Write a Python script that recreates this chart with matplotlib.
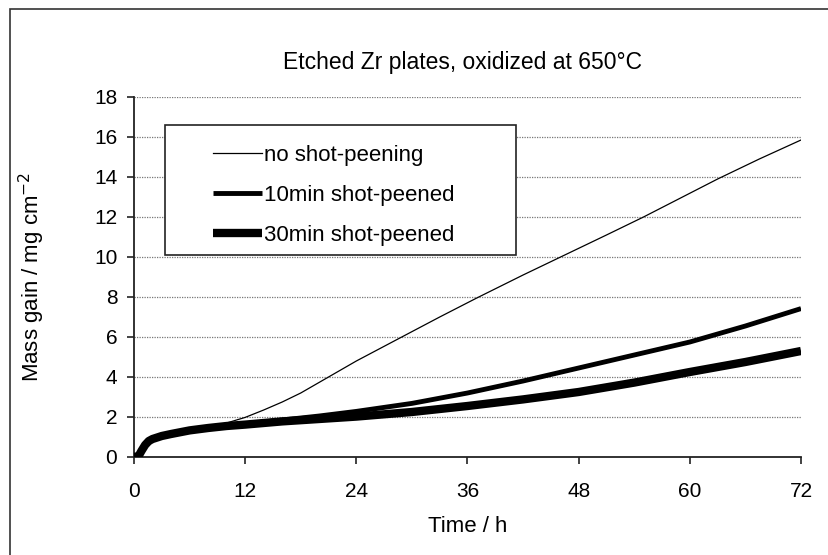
import matplotlib
matplotlib.use("Agg")
import matplotlib.pyplot as plt
from matplotlib.patches import Rectangle
import numpy as np

plt.rcParams["font.family"] = ["Liberation Sans", "DejaVu Sans"]

# ── Data ─────────────────────────────────────────────────────────────────────
t_none = [0, 0.5, 0.8, 1.2, 1.6, 2, 3, 4, 6, 8, 10, 12, 14, 16, 18, 21, 24,
          28.7, 33, 37, 42, 46.5, 51, 55, 59, 63, 67.5, 72]
m_none = [0, 0.05, 0.3, 0.6, 0.8, 0.9, 1.05, 1.15, 1.33, 1.5, 1.7, 1.98, 2.35,
          2.75, 3.2, 4.0, 4.8, 5.95, 7.0, 7.95, 9.1, 10.1, 11.1, 12.0, 12.95,
          13.9, 14.9, 15.85]

t_10 = [0, 0.5, 0.8, 1.2, 1.6, 2, 3, 4, 6, 8, 10, 12, 16, 20, 24, 30, 36,
        42, 48, 54, 60, 66, 72]
m_10 = [0, 0.05, 0.3, 0.6, 0.8, 0.9, 1.05, 1.15, 1.33, 1.45, 1.55, 1.65,
        1.85, 2.05, 2.28, 2.68, 3.2, 3.8, 4.45, 5.1, 5.75, 6.55, 7.42]

t_30 = [0, 0.5, 0.8, 1.2, 1.6, 2, 3, 4, 6, 8, 10, 12, 16, 20, 24, 30, 36,
        42, 48, 54, 60, 66, 72]
m_30 = [0, 0.05, 0.3, 0.6, 0.8, 0.9, 1.05, 1.15, 1.33, 1.45, 1.55, 1.62,
        1.78, 1.9, 2.02, 2.25, 2.55, 2.88, 3.25, 3.72, 4.25, 4.75, 5.3]

LABELS = ["no shot-peening", "10min shot-peened", "30min shot-peened"]
X_TICKS = [0, 12, 24, 36, 48, 60, 72]
Y_TICKS = [0, 2, 4, 6, 8, 10, 12, 14, 16, 18]

W, H = 829, 555
AX_W, AX_H = 667, 360
fig = plt.figure(figsize=(W / 100, H / 100), dpi=100)
ax = fig.add_axes([134 / W, 1 - 457 / H, AX_W / W, AX_H / H])

# outer frame (only left/top visible in the reference)
fig.patches.append(Rectangle((10 / W, -0.05), 1.2, 1 - 9 / H + 0.05,
                             transform=fig.transFigure, fill=False,
                             edgecolor="#333333", linewidth=1.2))

ax.plot(t_none, m_none, color="black", linewidth=0.9, label=LABELS[0], zorder=4)
ax.plot(t_10, m_10, color="black", linewidth=3.5, label=LABELS[1],
        solid_capstyle="butt", zorder=3)
ax.plot(t_30, m_30, color="black", linewidth=6, label=LABELS[2],
        solid_capstyle="butt", zorder=3)

ax.set_xlim(0, 72)
ax.set_ylim(0, 18)
ax.set_xticks(X_TICKS)
ax.set_yticks(Y_TICKS)
ax.tick_params(axis="both", labelsize=15, direction="out", length=5,
               width=1.2, color="#222222")
ax.tick_params(axis="x", pad=13)
ax.tick_params(axis="y", pad=7)

for y in Y_TICKS[1:]:
    ax.axhline(y, color="#777777", linewidth=0.9, linestyle=(0, (1, 1)), zorder=1)

for s in ["top", "right"]:
    ax.spines[s].set_visible(False)
for s in ["left", "bottom"]:
    ax.spines[s].set_linewidth(1.3)
    ax.spines[s].set_color("#222222")

ax.set_xlabel("Time / h", fontsize=16)
ax.set_ylabel("Mass gain / mg cm$^{-2}$", fontsize=16)
ax.xaxis.set_label_coords(0.5, -(527 - 457) / AX_H)
ax.yaxis.set_label_coords(-(134 - 32) / AX_W, 0.5)
ax.xaxis.label.set_va("center")
ax.yaxis.label.set_va("center")
fig.text(463 / W, 1 - 62 / H, "Etched Zr plates, oxidized at 650\u00b0C",
         ha="center", va="center", fontsize=16.5)

# legend frame drawn separately (the reference box is wider than its content)
ax.add_patch(Rectangle((31 / AX_W, 1 - (255 - 97) / AX_H), 351 / AX_W, 130 / AX_H,
                       transform=ax.transAxes, fill=True, facecolor="white",
                       edgecolor="#222222", linewidth=1.2, zorder=5))
leg = ax.legend(loc="upper left", bbox_to_anchor=(79 / AX_W, 1 - 48 / AX_H),
                fontsize=16, frameon=False, handlelength=2.2,
                handletextpad=0.1, labelspacing=0.85, borderpad=0,
                borderaxespad=0)
leg.set_zorder(6)

fig.savefig("out.png", dpi=100, facecolor="white")
